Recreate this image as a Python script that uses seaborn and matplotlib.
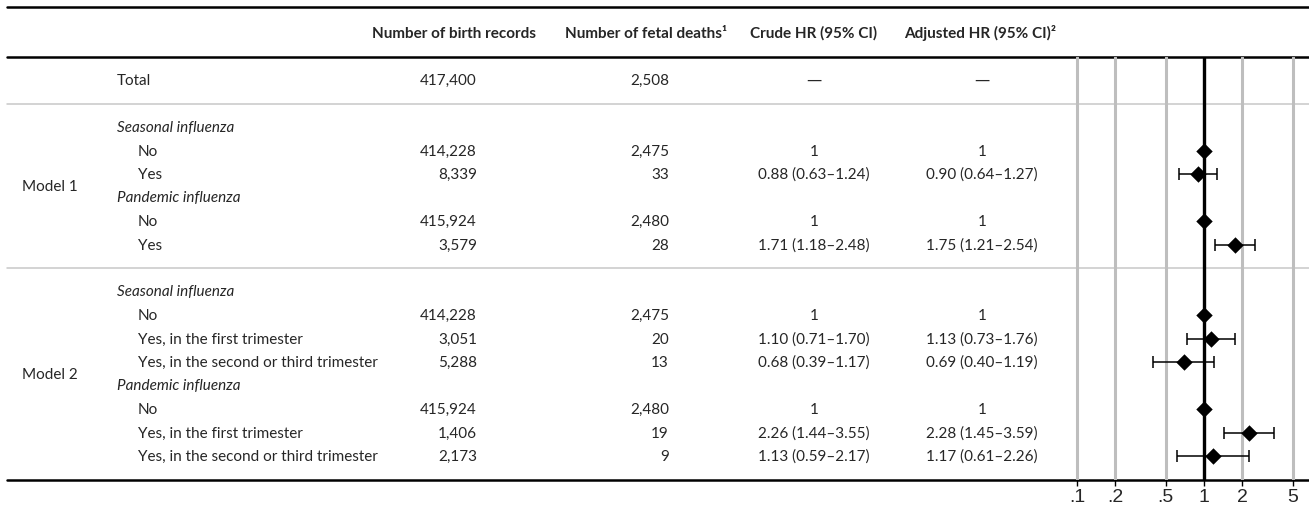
import numpy as np
import pandas as pd
import seaborn as sns
import matplotlib.pyplot as plt
from matplotlib.ticker import NullLocator

# ==== DATA ====
row_labels = ["Total",
              "Seasonal influenza", "No", "Yes",
              "Pandemic influenza", "No", "Yes",
              "Seasonal influenza", "No", "Yes, in the first trimester",
              "Yes, in the second or third trimester",
              "Pandemic influenza", "No", "Yes, in the first trimester",
              "Yes, in the second or third trimester"]
row_kind = ["total",
            "group", "level", "level",
            "group", "level", "level",
            "group", "level", "level", "level",
            "group", "level", "level", "level"]
births = [417400, None, 414228, 8339, None, 415924, 3579,
          None, 414228, 3051, 5288, None, 415924, 1406, 2173]
deaths = [2508, None, 2475, 33, None, 2480, 28,
          None, 2475, 20, 13, None, 2480, 19, 9]
nan = np.nan
crude_hr = [nan, nan, 1, 0.88, nan, 1, 1.71, nan, 1, 1.10, 0.68, nan, 1, 2.26, 1.13]
crude_lo = [nan, nan, nan, 0.63, nan, nan, 1.18, nan, nan, 0.71, 0.39, nan, nan, 1.44, 0.59]
crude_hi = [nan, nan, nan, 1.24, nan, nan, 2.48, nan, nan, 1.70, 1.17, nan, nan, 3.55, 2.17]
adj_hr = [nan, nan, 1, 0.90, nan, 1, 1.75, nan, 1, 1.13, 0.69, nan, 1, 2.28, 1.17]
adj_lo = [nan, nan, nan, 0.64, nan, nan, 1.21, nan, nan, 0.73, 0.40, nan, nan, 1.45, 0.61]
adj_hi = [nan, nan, nan, 1.27, nan, nan, 2.54, nan, nan, 1.76, 1.19, nan, nan, 3.59, 2.26]

model_names = ["Model 1", "Model 2"]
headers = ["Number of birth records", "Number of fetal deaths\u00b9",
           "Crude HR (95% CI)", "Adjusted HR (95% CI)\u00b2"]
tick_values = [0.1, 0.2, 0.5, 1, 2, 5]
tick_labels = [".1", ".2", ".5", "1", "2", "5"]

# ==== LAYOUT (pixels) ====
W, H = 1309, 513
TOP, STEP = 56.5, 23.5          # header rule and row pitch
row_pos = [1] + list(range(3, 9)) + list(range(10, 18))
model_span = [(3, 8), (10, 17)]
n_rows = 18


def ypix(k):
    return TOP + STEP * k


def fmt_n(v):
    return "" if v is None or pd.isna(v) else f"{int(v):,}"


def fmt_hr(hr, lo, hi):
    if np.isnan(hr):
        return ""
    if np.isnan(lo):
        return "1"
    return f"{hr:.2f} ({lo:.2f}\u2013{hi:.2f})"


df = pd.DataFrame({"label": row_labels, "kind": row_kind, "pos": row_pos,
                   "births": births, "deaths": deaths,
                   "crude_hr": crude_hr, "crude_lo": crude_lo, "crude_hi": crude_hi,
                   "adj_hr": adj_hr, "adj_lo": adj_lo, "adj_hi": adj_hi})

sns.set_style("white")
plt.rcParams['font.family'] = ['Lato', 'DejaVu Sans']
FS = 11

fig = plt.figure(figsize=(W / 100, H / 100), dpi=100)
ax = fig.add_axes([0, 0, 1, 1])
ax.set_xlim(0, W)
ax.set_ylim(H, 0)
ax.axis('off')

# ==== RULES ====
ax.plot([7, W], [7, 7], color='black', lw=1.8)
ax.plot([7, W], [ypix(0)] * 2, color='black', lw=1.8)
for k in (2, 9):
    ax.plot([7, W], [ypix(k)] * 2, color='#c8c8c8', lw=1.1)
ax.plot([7, W], [ypix(n_rows)] * 2, color='black', lw=1.8)

# ==== HEADER ====
header_x = [454, 646, 814, 980]
for hx, h in zip(header_x, headers):
    ax.text(hx, 38, h, ha='center', va='baseline', fontsize=FS, fontweight='bold')

# ==== TABLE BODY ====
off = 5
for _, r in df.iterrows():
    y = ypix(r['pos']) + off
    if r['kind'] == 'group':
        ax.text(117, y, r['label'], ha='left', va='baseline', fontsize=FS, style='italic')
        continue
    lx = 117 if r['kind'] == 'total' else 138
    ax.text(lx, y, r['label'], ha='left', va='baseline', fontsize=FS)
    ax.text(477, y, fmt_n(r['births']), ha='right', va='baseline', fontsize=FS)
    ax.text(669, y, fmt_n(r['deaths']), ha='right', va='baseline', fontsize=FS)
    if r['kind'] == 'total':
        for cx in (814, 982):
            ax.text(cx, y, "\u2014", ha='center', va='baseline', fontsize=FS,
                    family='DejaVu Sans')
        continue
    ax.text(814, y, fmt_hr(r['crude_hr'], r['crude_lo'], r['crude_hi']),
            ha='center', va='baseline', fontsize=FS)
    ax.text(982, y, fmt_hr(r['adj_hr'], r['adj_lo'], r['adj_hi']),
            ha='center', va='baseline', fontsize=FS)

for name, (a, b) in zip(model_names, model_span):
    ax.text(22, ypix((a + b) / 2) + off, name, ha='left', va='baseline', fontsize=FS)

# ==== FOREST PLOT ====
fx0 = 1060
fa = fig.add_axes([fx0 / W, 1 - ypix(n_rows) / H, (W - fx0) / W,
                   (ypix(n_rows) - ypix(0)) / H])
fa.patch.set_alpha(0)
fa.set_xscale('log')

pts = df.dropna(subset=['adj_hr'])
ci = pts.dropna(subset=['adj_lo'])
fa.axvline(1, color='black', lw=2.4, zorder=2)
fa.errorbar(ci['adj_hr'], ci['pos'],
            xerr=[ci['adj_hr'] - ci['adj_lo'], ci['adj_hi'] - ci['adj_hr']],
            fmt='none', ecolor='black', elinewidth=1.1, capsize=4.3, capthick=1.1, zorder=3)
sns.scatterplot(data=pts, x='adj_hr', y='pos', marker='D', s=70, color='black',
                linewidth=0, ax=fa, zorder=4, legend=False)

fa.set_xlim(0.0735, 6.71)
fa.set_ylim(n_rows, 0)
fa.set_xticks(tick_values)
fa.set_xticklabels(tick_labels)
fa.xaxis.set_minor_locator(NullLocator())
fa.set_yticks([])
fa.set_xlabel('')
fa.set_ylabel('')
fa.grid(axis='x', color='#bebebe', lw=2.2)
fa.grid(axis='y', visible=False)
fa.set_axisbelow(True)
for s in fa.spines.values():
    s.set_visible(False)
fa.tick_params(axis='x', bottom=True, length=4.5, width=1, color='black',
               labelsize=14, pad=2)
for lab in fa.get_xticklabels():
    lab.set_fontfamily('Liberation Sans')

fig.savefig('out.png', dpi=100)
